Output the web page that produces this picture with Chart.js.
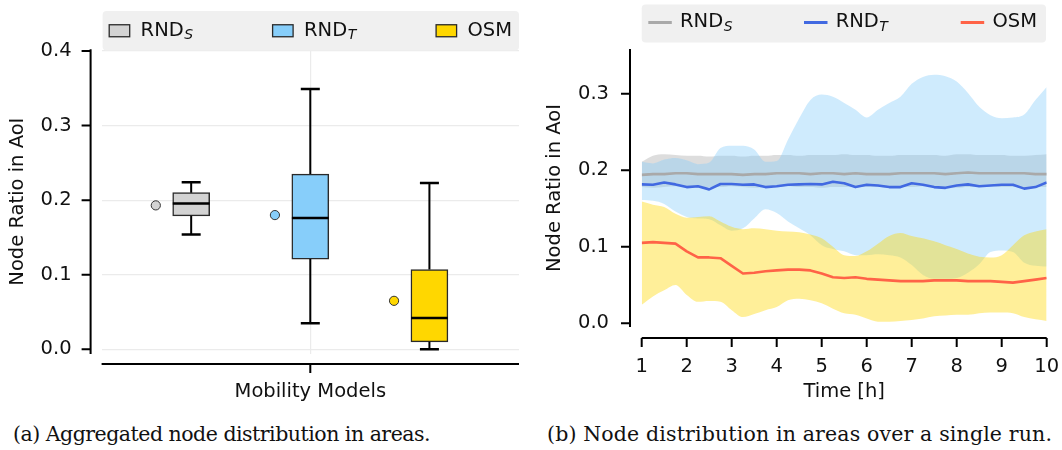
<!DOCTYPE html>
<html>
<head>
<meta charset="utf-8">
<script src="https://cdn.jsdelivr.net/npm/chart.js@4.4.0/dist/chart.umd.min.js"></script>
<style>
  body { margin: 0; background: #fff; width: 1062px; height: 450px; position: relative; overflow: hidden; }
  canvas { position: absolute; top: 0; }
  #aggChart { left: 0; }
  #runChart { left: 531px; }
  .caption { position: absolute; top: 422px; font-family: "DejaVu Serif", serif; font-size: 20.5px; color: #111; white-space: nowrap; }
</style>
</head>
<body>
<canvas id="aggChart" width="531" height="410"></canvas>
<canvas id="runChart" width="531" height="410"></canvas>
<div class="caption" style="left:13px; letter-spacing:-0.5px">(a) Aggregated node distribution in areas.</div>
<div class="caption" style="left:547px; letter-spacing:0.15px">(b) Node distribution in areas over a single run.</div>
<script>
// box statistics per mobility model
const models = [{ base: 'RND', sub: 'S' }, { base: 'RND', sub: 'T' }, { base: 'OSM', sub: '' }];
const boxMin = [0.154, 0.035, 0.000];
const boxQ1 = [0.179, 0.121, 0.010];
const boxMedian = [0.1955, 0.176, 0.042];
const boxQ3 = [0.210, 0.235, 0.107];
const boxMax = [0.224, 0.349, 0.223];
const boxMean = [0.193, 0.180, 0.065];
const aggTicks = [0, 0.1, 0.2, 0.3, 0.4];

// single run, sampled every 15 minutes
const hours = [1, 1.25, 1.5, 1.75, 2, 2.25, 2.5, 2.75, 3, 3.25, 3.5, 3.75, 4, 4.25, 4.5, 4.75, 5, 5.25, 5.5,
  5.75, 6, 6.25, 6.5, 6.75, 7, 7.25, 7.5, 7.75, 8, 8.25, 8.5, 8.75, 9, 9.25, 9.5, 9.75, 10];
const rndSMean = [0.194, 0.195, 0.195, 0.196, 0.196, 0.195, 0.195, 0.195, 0.195, 0.194, 0.195, 0.195, 0.196,
  0.196, 0.196, 0.195, 0.196, 0.196, 0.195, 0.196, 0.195, 0.195, 0.195, 0.196, 0.196, 0.196, 0.196, 0.195,
  0.196, 0.197, 0.196, 0.196, 0.196, 0.196, 0.196, 0.195, 0.195];
const rndSHigh = [0.211, 0.219, 0.221, 0.220, 0.219, 0.219, 0.218, 0.219, 0.219, 0.218, 0.219, 0.219, 0.220,
  0.220, 0.219, 0.220, 0.220, 0.220, 0.221, 0.220, 0.220, 0.219, 0.219, 0.220, 0.220, 0.220, 0.220, 0.219,
  0.221, 0.221, 0.220, 0.220, 0.220, 0.219, 0.219, 0.220, 0.221];
const rndSLow = [0.178, 0.177, 0.178, 0.179, 0.178, 0.177, 0.178, 0.178, 0.179, 0.178, 0.177, 0.178, 0.178,
  0.179, 0.178, 0.178, 0.177, 0.178, 0.178, 0.179, 0.178, 0.178, 0.177, 0.178, 0.178, 0.179, 0.178, 0.178,
  0.177, 0.178, 0.178, 0.179, 0.178, 0.178, 0.177, 0.178, 0.178];
const rndTMean = [0.1815, 0.181, 0.184, 0.1815, 0.178, 0.179, 0.175, 0.182, 0.182, 0.181, 0.1815, 0.178, 0.179,
  0.181, 0.1815, 0.182, 0.1815, 0.185, 0.183, 0.178, 0.181, 0.180, 0.178, 0.178, 0.183, 0.181, 0.178, 0.177,
  0.180, 0.1815, 0.179, 0.180, 0.181, 0.181, 0.176, 0.178, 0.184];
const rndTHigh = [0.211, 0.209, 0.214, 0.216, 0.213, 0.208, 0.210, 0.229, 0.232, 0.232, 0.227, 0.211, 0.212,
  0.240, 0.268, 0.292, 0.299, 0.296, 0.288, 0.279, 0.269, 0.279, 0.288, 0.296, 0.313, 0.322, 0.325, 0.323,
  0.316, 0.301, 0.283, 0.272, 0.268, 0.269, 0.273, 0.292, 0.309];
const rndTLow = [0.161, 0.160, 0.156, 0.146, 0.139, 0.137, 0.136, 0.128, 0.121, 0.124, 0.137, 0.149, 0.144,
  0.133, 0.124, 0.115, 0.102, 0.097, 0.094, 0.089, 0.089, 0.090, 0.089, 0.086, 0.076, 0.063, 0.058, 0.058,
  0.059, 0.066, 0.077, 0.093, 0.095, 0.093, 0.079, 0.075, 0.074];
const osmMean = [0.105, 0.106, 0.105, 0.104, 0.094, 0.086, 0.086, 0.085, 0.075, 0.065, 0.066, 0.068, 0.069,
  0.070, 0.070, 0.069, 0.065, 0.060, 0.059, 0.060, 0.058, 0.057, 0.056, 0.055, 0.055, 0.055, 0.056, 0.056,
  0.056, 0.055, 0.055, 0.055, 0.054, 0.053, 0.055, 0.057, 0.059];
const osmHigh = [0.159, 0.155, 0.152, 0.143, 0.138, 0.139, 0.140, 0.133, 0.126, 0.123, 0.124, 0.123, 0.121,
  0.120, 0.119, 0.116, 0.111, 0.100, 0.089, 0.088, 0.094, 0.104, 0.114, 0.118, 0.114, 0.111, 0.107, 0.102,
  0.097, 0.091, 0.087, 0.086, 0.089, 0.102, 0.115, 0.120, 0.123];
const osmLow = [0.024, 0.035, 0.043, 0.050, 0.037, 0.028, 0.029, 0.028, 0.017, 0.008, 0.012, 0.017, 0.021,
  0.030, 0.032, 0.030, 0.026, 0.019, 0.013, 0.011, 0.006, 0.002, 0.002, 0.003, 0.004, 0.006, 0.009, 0.010,
  0.011, 0.011, 0.013, 0.014, 0.014, 0.013, 0.008, 0.005, 0.003];
const hourTicks = [1, 2, 3, 4, 5, 6, 7, 8, 9, 10];
const runTicks = [0, 0.1, 0.2, 0.3];

const boxColors = ['#d3d3d3', '#87cefa', '#ffd700'];
const lineColors = ['#a9a9a9', '#4169e1', '#ff6347'];
const edgeColor = '#2a2a2a';
const FONT = '"DejaVu Sans", sans-serif';
const FONT_SIZE = 19.5;

Chart.defaults.font.family = FONT;
Chart.defaults.font.size = FONT_SIZE;
Chart.defaults.color = '#111';

// seaborn-like detached spines with outward ticks
const offsetSpines = {
  id: 'offsetSpines',
  afterDraw(chart, args, opts) {
    const { ctx, chartArea: a, scales: { x, y } } = chart;
    const len = 9;
    const sx = a.left - opts.dx;
    const sy = a.bottom + opts.dy;
    ctx.save();
    ctx.strokeStyle = '#000';
    ctx.lineWidth = 2;
    ctx.beginPath();
    ctx.moveTo(sx, a.top);
    ctx.lineTo(sx, a.bottom);
    y.ticks.forEach(t => {
      const py = y.getPixelForValue(t.value);
      ctx.moveTo(sx - len, py);
      ctx.lineTo(sx, py);
    });
    ctx.moveTo(a.left, sy);
    ctx.lineTo(a.right, sy);
    x.ticks.forEach(t => {
      const px = x.getPixelForValue(t.value);
      ctx.moveTo(px, sy);
      ctx.lineTo(px, sy + len);
    });
    ctx.stroke();
    ctx.restore();
  }
};

// legend strip above the plot, labels with italic subscripts
const panelLegend = {
  id: 'panelLegend',
  afterDraw(chart, args, opts) {
    const { ctx, chartArea: a } = chart;
    const bx = a.left + opts.dx, by = opts.top, bw = a.right - a.left - opts.dx - opts.dw, bh = opts.height;
    ctx.save();
    ctx.fillStyle = '#f0f0f0';
    ctx.beginPath();
    ctx.roundRect(bx, by, bw, bh, 4);
    ctx.fill();
    const cy = by + bh / 2;
    models.forEach((m, i) => {
      const x0 = bx + opts.offsets[i];
      if (opts.kind === 'patch') {
        ctx.fillStyle = boxColors[i];
        ctx.fillRect(x0, cy - 6, 20.5, 12);
        ctx.strokeStyle = edgeColor;
        ctx.lineWidth = 1.3;
        ctx.strokeRect(x0, cy - 6, 20.5, 12);
      } else {
        ctx.strokeStyle = lineColors[i];
        ctx.lineWidth = 3;
        ctx.beginPath();
        ctx.moveTo(x0, cy - 1);
        ctx.lineTo(x0 + 23.5, cy - 1);
        ctx.stroke();
      }
      const tx = x0 + opts.textGap;
      const base = cy + opts.baseline;
      ctx.fillStyle = '#111';
      ctx.textBaseline = 'alphabetic';
      ctx.textAlign = 'left';
      ctx.font = FONT_SIZE + 'px ' + FONT;
      ctx.fillText(m.base, tx, base);
      if (m.sub) {
        const w = ctx.measureText(m.base).width;
        ctx.font = 'italic 14px ' + FONT;
        ctx.fillText(m.sub, tx + w + 0.5, base + 3.5);
      }
    });
    ctx.restore();
  }
};

// whiskers, caps and medians on top of the box bodies
const boxWhiskers = {
  id: 'boxWhiskers',
  afterDatasetsDraw(chart) {
    const { ctx, scales: { x, y } } = chart;
    const half = 18.4, cap = 9.5;
    ctx.save();
    ctx.strokeStyle = '#000';
    models.forEach((m, i) => {
      const cx = x.getPixelForValue(i - 1);
      const yMin = y.getPixelForValue(boxMin[i]);
      const yMax = y.getPixelForValue(boxMax[i]);
      ctx.lineWidth = 2;
      ctx.beginPath();
      ctx.moveTo(cx, y.getPixelForValue(boxQ3[i]));
      ctx.lineTo(cx, yMax);
      ctx.moveTo(cx, y.getPixelForValue(boxQ1[i]));
      ctx.lineTo(cx, yMin);
      ctx.stroke();
      ctx.lineWidth = 2.5;
      ctx.beginPath();
      ctx.moveTo(cx - cap, yMax);
      ctx.lineTo(cx + cap, yMax);
      ctx.moveTo(cx - cap, yMin);
      ctx.lineTo(cx + cap, yMin);
      const yMed = y.getPixelForValue(boxMedian[i]);
      ctx.moveTo(cx - half, yMed);
      ctx.lineTo(cx + half, yMed);
      ctx.stroke();
    });
    ctx.restore();
  }
};

// keep tick-label overhang from shrinking the plot area
const noSidePadding = s => { s.paddingLeft = 0; s.paddingRight = 0; };

const gridStyle = { color: '#ebebeb', lineWidth: 1.2, drawTicks: false };

new Chart(document.getElementById('aggChart'), {
  type: 'bar',
  data: {
    datasets: [
      {
        type: 'scatter',
        data: models.map((m, i) => ({ x: i - 1 - 0.297, y: boxMean[i] })),
        pointRadius: 4.6,
        pointBackgroundColor: boxColors,
        pointBorderColor: '#333',
        pointBorderWidth: 1
      },
      {
        data: models.map((m, i) => ({ x: i - 1, y: [boxQ1[i], boxQ3[i]] })),
        backgroundColor: boxColors,
        borderColor: edgeColor,
        borderWidth: 1.5,
        borderSkipped: false,
        barThickness: 37,
        grouped: false
      }
    ]
  },
  options: {
    responsive: false,
    animation: false,
    events: [],
    layout: { padding: { top: 49.3, right: 12, bottom: 0, left: 0 } },
    plugins: {
      legend: { display: false },
      tooltip: { enabled: false },
      offsetSpines: { dx: 11, dy: 10 },
      panelLegend: { kind: 'patch', dx: 1, dw: 0, top: 11, height: 39.5, offsets: [6.6, 170, 333.5], textGap: 31.4, baseline: 4.8 }
    },
    scales: {
      x: {
        type: 'linear',
        min: -1.752,
        max: 1.752,
        offset: false,
        afterBuildTicks: s => { s.ticks = [{ value: 0 }]; },
        ticks: { display: false },
        grid: { ...gridStyle, offset: false },
        border: { display: false },
        title: { display: true, text: 'Mobility Models', padding: { top: 0, bottom: 6.6 } },
        afterFit: s => { noSidePadding(s); s.height = 56; }
      },
      y: {
        min: -0.0063,
        max: 0.4023,
        afterBuildTicks: s => { s.ticks = aggTicks.map(v => ({ value: v })); },
        ticks: { padding: 30, callback: v => v.toFixed(1) },
        grid: gridStyle,
        border: { display: false },
        title: { display: true, text: 'Node Ratio in AoI', padding: { top: 6.2, bottom: 0 } },
        afterFit: s => { s.width = 101.6; }
      }
    }
  },
  plugins: [boxWhiskers, offsetSpines, panelLegend]
});

const meanLine = (data, color) => ({
  data, borderColor: color, borderWidth: 2.6, pointRadius: 0, fill: false,
  tension: 0, borderJoinStyle: 'round'
});
const bandEdge = (data, color, fill) => ({
  data, backgroundColor: color, borderWidth: 0, pointRadius: 0, fill,
  cubicInterpolationMode: 'monotone'
});

new Chart(document.getElementById('runChart'), {
  type: 'line',
  data: {
    labels: hours,
    datasets: [
      meanLine(rndSMean, lineColors[0]),
      meanLine(rndTMean, lineColors[1]),
      meanLine(osmMean, lineColors[2]),
      bandEdge(osmHigh, 'rgba(255, 215, 0, 0.4)', '+1'),
      bandEdge(osmLow, 'rgba(255, 215, 0, 0.4)', false),
      bandEdge(rndTHigh, 'rgba(135, 206, 250, 0.4)', '+1'),
      bandEdge(rndTLow, 'rgba(135, 206, 250, 0.4)', false),
      bandEdge(rndSHigh, 'rgba(169, 169, 169, 0.4)', '+1'),
      bandEdge(rndSLow, 'rgba(169, 169, 169, 0.4)', false)
    ]
  },
  options: {
    responsive: false,
    animation: false,
    events: [],
    layout: { padding: { top: 49, right: 15.3, bottom: 0, left: 0 } },
    plugins: {
      legend: { display: false },
      tooltip: { enabled: false },
      offsetSpines: { dx: 11.7, dy: 11 },
      panelLegend: { kind: 'line', dx: 0, dw: 0.7, top: 4.5, height: 38, offsets: [6.6, 162.3, 319], textGap: 31.7, baseline: 3.9 }
    },
    scales: {
      x: {
        type: 'linear',
        min: 1,
        max: 10,
        afterBuildTicks: s => { s.ticks = hourTicks.map(v => ({ value: v })); },
        ticks: { padding: 28, callback: v => String(v) },
        grid: { display: false, drawTicks: false },
        border: { display: false },
        title: { display: true, text: 'Time [h]', padding: { top: 0, bottom: 6.6 } },
        afterFit: s => { noSidePadding(s); s.height = 83; }
      },
      y: {
        min: -0.005,
        max: 0.3586,
        afterBuildTicks: s => { s.ticks = runTicks.map(v => ({ value: v })); },
        ticks: { padding: 32.7, callback: v => v.toFixed(1) },
        grid: { display: false, drawTicks: false },
        border: { display: false },
        title: { display: true, text: 'Node Ratio in AoI', padding: { top: 12.3, bottom: 0 } },
        afterFit: s => { s.width = 110.7; }
      }
    }
  },
  plugins: [offsetSpines, panelLegend]
});
</script>
</body>
</html>
